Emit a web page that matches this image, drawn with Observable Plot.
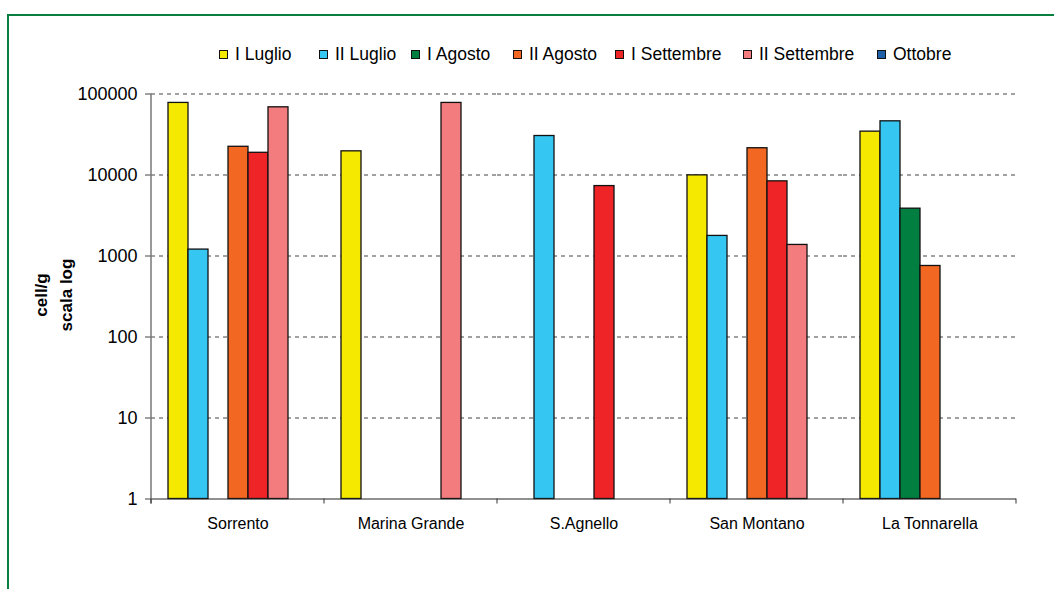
<!DOCTYPE html>
<html>
<head>
<meta charset="utf-8">
<script src="https://cdn.jsdelivr.net/npm/d3@7"></script>
<script src="https://cdn.jsdelivr.net/npm/@observablehq/plot@0.6"></script>
<style>
  html, body { margin: 0; padding: 0; background: #fff; }
  #wrap { position: relative; width: 1054px; height: 589px; overflow: hidden; font-family: "Liberation Sans", Arial, sans-serif; }
  #frame { position: absolute; left: 7px; top: 14px; width: 1100px; height: 700px; border-top: 2.5px solid #0a8040; border-left: 2.5px solid #0a8040; box-sizing: border-box; }
  #chart { position: absolute; left: 0; top: 0; }
  #legend { position: absolute; left: 0; top: 44px; width: 1054px; height: 20px; font-size: 17.5px; color: #000; white-space: nowrap; }
  .item { position: absolute; top: 0; display: flex; align-items: center; }
  .sw { width: 7px; height: 7px; border: 1.2px solid #111; margin-right: 7px; }
</style>
</head>
<body>
<div id="wrap">
  <div id="frame"></div>
  <div id="chart"></div>
  <div id="legend"></div>
</div>
<script>
const sites = ["Sorrento", "Marina Grande", "S.Agnello", "San Montano", "La Tonnarella"];
const periods = ["I Luglio", "II Luglio", "I Agosto", "II Agosto", "I Settembre", "II Settembre", "Ottobre"];
const colors = ["#F5E900", "#35C6F2", "#007F40", "#F26722", "#EE2427", "#F37C7E", "#1F5FA8"];

// values per period, in site order (null = no bar)
const iLuglio     = [77600, 19600, null, 9900, 34300];
const iiLuglio    = [1200, null, 30300, 1770, 46000];
const iAgosto     = [null, null, null, null, 3840];
const iiAgosto    = [22300, null, null, 21400, 753];
const iSettembre  = [18800, null, 7300, 8350, null];
const iiSettembre = [68500, 77600, null, 1370, null];
const ottobre     = [null, null, null, null, null];

const yTicks = [1, 10, 100, 1000, 10000, 100000];

// legend item left edges (layout)
const legendLeft = [219, 319, 411, 513, 615, 743, 877];

const series = [iLuglio, iiLuglio, iAgosto, iiAgosto, iSettembre, iiSettembre, ottobre];
const data = sites.flatMap((s, i) => periods.map((p, j) => ({site: s, period: p, value: series[j][i]})))
  .filter(d => d.value != null);

const plot = Plot.plot({
  width: 1054,
  height: 589,
  marginTop: 93.5,
  marginBottom: 90.5,
  marginLeft: 151,
  marginRight: 38,
  style: {fontFamily: "Liberation Sans, Arial, sans-serif", color: "#000", background: "transparent"},
  fx: {domain: sites, padding: 0, label: null},
  x: {domain: periods, paddingInner: 0, paddingOuter: 0.75, axis: null},
  y: {type: "log", domain: [1, 100000]},
  color: {domain: periods, range: colors},
  marks: [
    Plot.ruleY(yTicks.slice(1), {stroke: "#444", strokeWidth: 1, strokeDasharray: "4,4"}),
    Plot.barY(data, {fx: "site", x: "period", y1: d => 1, y2: "value", fill: "period", stroke: "#111", strokeWidth: 1.3}),
    Plot.ruleY([1], {stroke: "#222", strokeWidth: 1.2}),
    Plot.axisY({ticks: yTicks, tickFormat: d => String(d), tickSize: 6, tickPadding: 8, fontSize: 18, label: null, stroke: "#444"}),
    Plot.axisFx({anchor: "bottom", tickSize: 0, tickPadding: 19, fontSize: 16, label: null})
  ]
});
document.getElementById("chart").appendChild(plot);

// y axis line, boundary ticks and axis title, positioned with the plot's own scales
const svg = d3.select(plot);
const fx = plot.scale("fx");
const y = plot.scale("y");
const yTop = y.apply(100000), yBase = y.apply(1);
const left = fx.apply(sites[0]);
svg.append("line").attr("x1", left).attr("x2", left).attr("y1", yTop).attr("y2", yBase + 5)
  .attr("stroke", "#777").attr("stroke-width", 1.5);
const bounds = sites.map(s => fx.apply(s)).concat([fx.apply(sites[sites.length - 1]) + fx.bandwidth]);
bounds.forEach(bx => {
  svg.append("line").attr("x1", bx).attr("x2", bx).attr("y1", yBase).attr("y2", yBase + 5)
    .attr("stroke", "#333").attr("stroke-width", 1);
});
const title = svg.append("text")
  .attr("transform", `translate(53,${(yTop + yBase) / 2 - 1}) rotate(-90)`)
  .attr("text-anchor", "middle")
  .attr("font-weight", "bold")
  .attr("font-size", 17)
  .attr("font-family", "Liberation Sans, Arial, sans-serif");
title.append("tspan").attr("x", 0).attr("dy", "-0.35em").text("cell/g");
title.append("tspan").attr("x", 0).attr("dy", "1.45em").text("scala log");

// legend
const legend = document.getElementById("legend");
periods.forEach((p, i) => {
  const it = document.createElement("div");
  it.className = "item";
  it.style.left = legendLeft[i] + "px";
  const sw = document.createElement("div");
  sw.className = "sw";
  sw.style.background = colors[i];
  const t = document.createElement("span");
  t.textContent = p;
  it.appendChild(sw);
  it.appendChild(t);
  legend.appendChild(it);
});
</script>
</body>
</html>
